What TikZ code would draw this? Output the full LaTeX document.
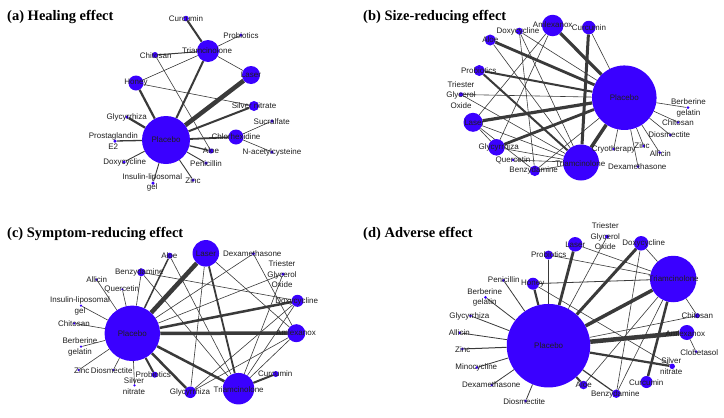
\documentclass[tikz,border=0pt]{standalone}
\usepackage{fontspec}
\setmainfont{Liberation Serif}
\newfontfamily\lblfont{Liberation Sans}
\usetikzlibrary{backgrounds}
\definecolor{nodeblue}{RGB}{58,0,255}
\definecolor{edgegray}{RGB}{58,58,58}
\begin{document}
\begin{tikzpicture}[x=1pt,y=-1pt,
  dot/.style={circle,fill=nodeblue,draw=none,inner sep=0pt,minimum size=#1},
  lbl/.style={font=\lblfont\fontsize{8}{10.8}\selectfont,inner sep=0pt,align=center,text=black!88},
  ttl/.style={font=\bfseries\fontsize{14.5}{16}\selectfont,anchor=base west,inner sep=0pt},
  ew/.style={draw=edgegray,line width=#1},
]
\useasboundingbox (0,0) rectangle (724,418);
\begin{pgfonlayer}{background}
\fill[white] (0,0) rectangle (724,418);
\end{pgfonlayer}

% ---------------- titles
\node[ttl] (ta) at (7,20.5) {(a) Healing effect};
\node[ttl] (tb) at (363,20.5) {(b) Size-reducing effect};
\node[ttl] (tc) at (7,237) {(c) Symptom-reducing effect};
\node[ttl] (td) at (363,237) {(d) Adverse effect};

% ================= panel (a)
\node[dot=5.5pt] (a-cur) at (186,18.5) {};
\node[dot=3.5pt] (a-pro) at (241,35) {};
\node[dot=22pt]  (a-tri) at (208,51) {};
\node[dot=6pt]   (a-chi) at (155,55) {};
\node[dot=18pt]  (a-las) at (251,75) {};
\node[dot=15pt]  (a-hon) at (136,83) {};
\node[dot=10pt]  (a-sil) at (254,106) {};
\node[dot=3.5pt] (a-gly) at (127,117) {};
\node[dot=3.5pt] (a-suc) at (272,121) {};
\node[dot=48pt]  (a-pla) at (166,140) {};
\node[dot=15pt]  (a-chl) at (236,137) {};
\node[dot=3.5pt] (a-pge) at (115,141) {};
\node[dot=5pt]   (a-alo) at (211,151) {};
\node[dot=3.5pt] (a-nac) at (272,152) {};
\node[dot=3.5pt] (a-dox) at (124,162) {};
\node[dot=3.5pt] (a-pen) at (206,163) {};
\node[dot=3.5pt] (a-ins) at (153,183) {};
\node[dot=3.5pt] (a-zin) at (193,180) {};

\node[lbl] (la-cur) at (186,19) {Curcumin};
\node[lbl] (la-pro) at (241,35.7) {Probiotics};
\node[lbl] (la-tri) at (207,51) {Triamcinolone};
\node[lbl] (la-chi) at (155.7,55.3) {Chitosan};
\node[lbl] (la-las) at (251,75) {Laser};
\node[lbl] (la-hon) at (136,83) {Honey};
\node[lbl] (la-sil) at (254,106) {Silver nitrate};
\node[lbl] (la-gly) at (126.7,117.3) {Glycyrrhiza};
\node[lbl] (la-suc) at (271.7,121.7) {Sucralfate};
\node[lbl] (la-pla) at (166,140) {Placebo};
\node[lbl] (la-chl) at (236,136.7) {Chlorhexidine};
\node[lbl] (la-pge) at (113.3,141) {Prostaglandin\\E2};
\node[lbl] (la-alo) at (211,150.7) {Aloe};
\node[lbl] (la-nac) at (272,152.3) {N-acetylcysteine};
\node[lbl] (la-dox) at (124.7,162.3) {Doxycycline};
\node[lbl] (la-pen) at (206,163.3) {Penicillin};
\node[lbl] (la-ins) at (152.3,182.5) {Insulin-liposomal\\gel};
\node[lbl] (la-zin) at (193,180.3) {Zinc};

% ================= panel (b)
\node[dot=21.5pt] (b-aml) at (552.7,25.5) {};
\node[dot=13.5pt] (b-cur) at (588.8,27.5) {};
\node[dot=7pt]    (b-dox) at (519.3,31.2) {};
\node[dot=11pt]   (b-alo) at (490.2,40) {};
\node[dot=11pt]   (b-pro) at (479.3,70.5) {};
\node[dot=4.5pt]  (b-tre) at (461,94.5) {};
\node[dot=64.5pt] (b-pla) at (624.3,97.7) {};
\node[dot=3pt]    (b-ber) at (688,107.7) {};
\node[dot=19pt]   (b-las) at (473,122.3) {};
\node[dot=3pt]    (b-chi) at (678,122.3) {};
\node[dot=3pt]    (b-dio) at (670.3,135) {};
\node[dot=16.5pt] (b-gly) at (496.5,147.3) {};
\node[dot=3pt]    (b-cry) at (613.7,149) {};
\node[dot=3pt]    (b-zin) at (643.7,146) {};
\node[dot=3pt]    (b-all) at (659.7,152.7) {};
\node[dot=3pt]    (b-que) at (513.2,160) {};
\node[dot=36pt]   (b-tri) at (581,162.5) {};
\node[dot=10.5pt] (b-ben) at (534.8,170.8) {};
\node[dot=3pt]    (b-dex) at (638,166.7) {};

\node[lbl] (lb-aml) at (552.7,25) {Amlexanox};
\node[lbl] (lb-cur) at (589,27.5) {Curcumin};
\node[lbl] (lb-dox) at (518,31.7) {Doxycycline};
\node[lbl] (lb-alo) at (490.3,40) {Aloe};
\node[lbl] (lb-pro) at (478.7,71) {Probiotics};
\node[lbl] (lb-tre) at (461,95) {Triester\\Glycerol\\Oxide};
\node[lbl] (lb-pla) at (624.3,97.7) {Placebo};
\node[lbl] (lb-ber) at (688.5,108) {Berberine\\gelatin};
\node[lbl] (lb-las) at (474.3,122.3) {Laser};
\node[lbl] (lb-chi) at (678,122.3) {Chitosan};
\node[lbl] (lb-dio) at (669.3,135) {Diosmectite};
\node[lbl] (lb-gly) at (498.7,147) {Glycyrrhiza};
\node[lbl] (lb-cry) at (613.7,149) {Cryotherapy};
\node[lbl] (lb-zin) at (642,146) {Zinc};
\node[lbl] (lb-all) at (660.3,153.7) {Allicin};
\node[lbl] (lb-que) at (513,160) {Quercetin};
\node[lbl] (lb-tri) at (580.3,163.3) {Triamcinolone};
\node[lbl] (lb-ben) at (533.7,170.7) {Benzydamine};
\node[lbl] (lb-dex) at (637.3,167) {Dexamethasone};

% ================= panel (c)
\node[dot=26.5pt] (c-las) at (205.8,253.3) {};
\node[dot=6pt]    (c-alo) at (169.7,255.7) {};
\node[dot=3.5pt]  (c-dex) at (253.3,253.7) {};
\node[dot=3.5pt]  (c-tre) at (283,274) {};
\node[dot=8pt]    (c-ben) at (141.3,272.3) {};
\node[dot=2.5pt]  (c-all) at (96.5,279.5) {};
\node[dot=2.5pt]  (c-que) at (122.3,289.2) {};
\node[dot=2.5pt]  (c-ins) at (81,305.7) {};
\node[dot=12pt]   (c-dox) at (297.5,300.8) {};
\node[dot=2.5pt]  (c-chi) at (74.2,323.3) {};
\node[dot=55.5pt] (c-pla) at (132.3,333.3) {};
\node[dot=18pt]   (c-aml) at (296.3,333.2) {};
\node[dot=2.5pt]  (c-ber) at (81,346.7) {};
\node[dot=2.5pt]  (c-zin) at (78.7,370) {};
\node[dot=2.5pt]  (c-dio) at (113.3,370) {};
\node[dot=2.5pt]  (c-sil) at (134.5,385.3) {};
\node[dot=6pt]    (c-pro) at (154.7,374.7) {};
\node[dot=11.5pt] (c-gly) at (190.3,392.3) {};
\node[dot=31.5pt] (c-tri) at (238.5,388.7) {};
\node[dot=6pt]    (c-cur) at (275.7,374) {};

\node[lbl] (lc-las) at (206,253.7) {Laser};
\node[lbl] (lc-alo) at (169.3,256) {Aloe};
\node[lbl] (lc-dex) at (252.3,253.7) {Dexamethasone};
\node[lbl] (lc-tre) at (282,274.3) {Triester\\Glycerol\\Oxide};
\node[lbl] (lc-ben) at (139.3,272.7) {Benzydamine};
\node[lbl] (lc-all) at (96.7,279.7) {Allicin};
\node[lbl] (lc-que) at (121.7,289) {Quercetin};
\node[lbl] (lc-ins) at (80,306) {Insulin-liposomal\\gel};
\node[lbl] (lc-dox) at (296.7,301) {Doxycycline};
\node[lbl] (lc-chi) at (74,323.3) {Chitosan};
\node[lbl] (lc-pla) at (132.3,333.3) {Placebo};
\node[lbl] (lc-aml) at (296,333) {Amlexanox};
\node[lbl] (lc-ber) at (80,347.3) {Berberine\\gelatin};
\node[lbl] (lc-zin) at (81.7,370.3) {Zinc};
\node[lbl] (lc-dio) at (111.7,370.3) {Diosmectite};
\node[lbl] (lc-sil) at (134,386) {Silver\\nitrate};
\node[lbl] (lc-pro) at (153.3,374.3) {Probiotics};
\node[lbl] (lc-gly) at (190,392.3) {Glycyrrhiza};
\node[lbl] (lc-tri) at (238.7,389.3) {Triamcinolone};
\node[lbl] (lc-cur) at (275.3,374) {Curcumin};

% ================= panel (d)
\node[dot=4pt]    (d-tre) at (607,236.7) {};
\node[dot=14.5pt] (d-las) at (575.2,244.3) {};
\node[dot=14.5pt] (d-dox) at (641.2,243.3) {};
\node[dot=9pt]    (d-pro) at (548.5,255) {};
\node[dot=46.5pt] (d-tri) at (673.2,279) {};
\node[dot=3pt]    (d-pen) at (503.5,280.3) {};
\node[dot=12pt]   (d-hon) at (533,283.7) {};
\node[dot=3pt]    (d-ber) at (485.5,297.3) {};
\node[dot=3pt]    (d-gly) at (470.5,315.8) {};
\node[dot=5pt]    (d-chi) at (697.3,315.7) {};
\node[dot=15pt]   (d-aml) at (686.8,332.5) {};
\node[dot=83.5pt] (d-pla) at (548.5,345.7) {};
\node[dot=3pt]    (d-all) at (459.7,332.8) {};
\node[dot=3pt]    (d-clo) at (696,351.7) {};
\node[dot=3pt]    (d-zin) at (462.3,349) {};
\node[dot=5.5pt]  (d-sil) at (672.2,366.3) {};
\node[dot=3pt]    (d-min) at (476.8,367.5) {};
\node[dot=12pt]   (d-cur) at (646.5,382) {};
\node[dot=8.5pt]  (d-alo) at (583.5,385) {};
\node[dot=3pt]    (d-dex) at (491.8,385) {};
\node[dot=8.5pt]  (d-ben) at (616.3,393.7) {};
\node[dot=3pt]    (d-dio) at (525.7,401) {};

\node[lbl] (ld-tre) at (605.3,236.3) {Triester\\Glycerol\\Oxide};
\node[lbl] (ld-las) at (575.3,244.7) {Laser};
\node[lbl] (ld-dox) at (643.7,243.7) {Doxycycline};
\node[lbl] (ld-pro) at (548.7,255) {Probiotics};
\node[lbl] (ld-tri) at (673.7,279) {Triamcinolone};
\node[lbl] (ld-pen) at (503.7,280) {Penicillin};
\node[lbl] (ld-hon) at (532.7,284) {Honey};
\node[lbl] (ld-ber) at (484.7,297.5) {Berberine\\gelatin};
\node[lbl] (ld-gly) at (469.3,316.3) {Glycyrrhiza};
\node[lbl] (ld-chi) at (697.3,316) {Chitosan};
\node[lbl] (ld-aml) at (685.3,333.3) {Amlexanox};
\node[lbl] (ld-pla) at (548.7,345.7) {Placebo};
\node[lbl] (ld-all) at (459.3,333) {Allicin};
\node[lbl] (ld-clo) at (699.3,352.3) {Clobetasol};
\node[lbl] (ld-zin) at (462.7,349.3) {Zinc};
\node[lbl] (ld-sil) at (671.3,366.5) {Silver\\nitrate};
\node[lbl] (ld-min) at (476.3,367.7) {Minocycline};
\node[lbl] (ld-cur) at (646.3,382.3) {Curcumin};
\node[lbl] (ld-alo) at (583.7,385) {Aloe};
\node[lbl] (ld-dex) at (491.3,385) {Dexamethasone};
\node[lbl] (ld-ben) at (615.3,394) {Benzydamine};
\node[lbl] (ld-dio) at (524.3,401.3) {Diosmectite};

% ================= edges (behind nodes)
\begin{pgfonlayer}{background}
% (a)
\draw[ew=2pt] (a-cur)--(a-tri);
\draw[ew=0.6pt] (a-pro)--(a-tri);
\draw[ew=1pt] (a-chi)--(a-tri);
\draw[ew=0.6pt] (a-tri)--(a-las);
\draw[ew=0.6pt] (a-tri)--(a-hon);
\draw[ew=2pt] (a-tri)--(a-pla);
\draw[ew=0.6pt] (a-chi)--(a-alo);
\draw[ew=2.2pt] (a-hon)--(a-pla);
\draw[ew=0.6pt] (a-hon)--(a-sil);
\draw[ew=4.5pt] (a-las)--(a-pla);
\draw[ew=2pt] (a-sil)--(a-pla);
\draw[ew=2.2pt] (a-gly)--(a-pla);
\draw[ew=1.3pt] (a-pge)--(a-pla);
\draw[ew=1.8pt] (a-chl)--(a-pla);
\draw[ew=0.6pt] (a-chl)--(a-suc);
\draw[ew=0.6pt] (a-chl)--(a-nac);
\draw[ew=1.3pt] (a-pla)--(a-alo);
\draw[ew=0.9pt] (a-pla)--(a-pen);
\draw[ew=0.9pt] (a-pla)--(a-dox);
\draw[ew=0.9pt] (a-pla)--(a-ins);
\draw[ew=0.9pt] (a-pla)--(a-zin);
% (b)
\draw[ew=3.2pt] (b-pla)--(b-aml);
\draw[ew=0.6pt] (b-pla)--(b-cur);
\draw[ew=0.6pt] (b-pla)--(b-dox);
\draw[ew=2.8pt] (b-pla)--(b-alo);
\draw[ew=2pt] (b-pla)--(b-pro);
\draw[ew=0.6pt] (b-pla)--(b-tre);
\draw[ew=3.2pt] (b-pla)--(b-las);
\draw[ew=2.8pt] (b-pla)--(b-gly);
\draw[ew=3.5pt] (b-pla)--(b-tri);
\draw[ew=0.6pt] (b-pla)--(b-ben);
\draw[ew=0.6pt] (b-pla)--(b-ber);
\draw[ew=0.6pt] (b-pla)--(b-chi);
\draw[ew=0.6pt] (b-pla)--(b-dio);
\draw[ew=0.6pt] (b-pla)--(b-all);
\draw[ew=0.6pt] (b-pla)--(b-zin);
\draw[ew=0.6pt] (b-pla)--(b-dex);
\draw[ew=0.6pt] (b-pla)--(b-cry);
\draw[ew=3pt] (b-cur)--(b-tri);
\draw[ew=0.6pt] (b-aml)--(b-las);
\draw[ew=0.6pt] (b-aml)--(b-gly);
\draw[ew=0.6pt] (b-dox)--(b-tri);
\draw[ew=0.6pt] (b-dox)--(b-ben);
\draw[ew=0.6pt] (b-alo)--(b-tri);
\draw[ew=2pt] (b-pro)--(b-tri);
\draw[ew=0.6pt] (b-tre)--(b-tri);
\draw[ew=0.6pt] (b-las)--(b-gly);
\draw[ew=0.6pt] (b-las)--(b-tri);
\draw[ew=0.6pt] (b-las)--(b-ben);
\draw[ew=0.6pt] (b-gly)--(b-tri);
\draw[ew=0.6pt] (b-que)--(b-tri);
\draw[ew=0.6pt] (b-ben)--(b-tri);
% (c)
\draw[ew=4.5pt] (c-pla)--(c-las);
\draw[ew=1.5pt] (c-pla)--(c-alo);
\draw[ew=0.6pt] (c-pla)--(c-ben);
\draw[ew=0.6pt] (c-pla)--(c-que);
\draw[ew=0.6pt] (c-pla)--(c-all);
\draw[ew=0.6pt] (c-pla)--(c-ins);
\draw[ew=0.6pt] (c-pla)--(c-chi);
\draw[ew=0.6pt] (c-pla)--(c-ber);
\draw[ew=0.6pt] (c-pla)--(c-zin);
\draw[ew=0.6pt] (c-pla)--(c-dio);
\draw[ew=0.6pt] (c-pla)--(c-sil);
\draw[ew=2pt] (c-pla)--(c-pro);
\draw[ew=2.5pt] (c-pla)--(c-gly);
\draw[ew=2.5pt] (c-pla)--(c-tri);
\draw[ew=3.5pt] (c-pla)--(c-aml);
\draw[ew=2.5pt] (c-pla)--(c-dox);
\draw[ew=0.6pt] (c-pla)--(c-dex);
\draw[ew=0.6pt] (c-pla)--(c-tre);
\draw[ew=1.8pt] (c-las)--(c-tri);
\draw[ew=0.6pt] (c-las)--(c-aml);
\draw[ew=0.6pt] (c-las)--(c-gly);
\draw[ew=0.6pt] (c-alo)--(c-tri);
\draw[ew=0.6pt] (c-ben)--(c-dox);
\draw[ew=0.6pt] (c-ben)--(c-tri);
\draw[ew=0.6pt] (c-dex)--(c-aml);
\draw[ew=0.6pt] (c-tre)--(c-tri);
\draw[ew=0.6pt] (c-dox)--(c-tri);
\draw[ew=0.6pt] (c-aml)--(c-tri);
\draw[ew=0.6pt] (c-aml)--(c-gly);
\draw[ew=0.6pt] (c-dox)--(c-gly);
\draw[ew=2pt] (c-cur)--(c-tri);
% (d)
\draw[ew=3.5pt] (d-pla)--(d-tri);
\draw[ew=4.5pt] (d-pla)--(d-aml);
\draw[ew=3pt] (d-pla)--(d-dox);
\draw[ew=2.8pt] (d-pla)--(d-las);
\draw[ew=1.8pt] (d-pla)--(d-pro);
\draw[ew=2.2pt] (d-pla)--(d-hon);
\draw[ew=0.8pt] (d-pla)--(d-pen);
\draw[ew=0.8pt] (d-pla)--(d-ber);
\draw[ew=0.8pt] (d-pla)--(d-gly);
\draw[ew=0.8pt] (d-pla)--(d-all);
\draw[ew=1pt] (d-pla)--(d-zin);
\draw[ew=0.8pt] (d-pla)--(d-min);
\draw[ew=0.8pt] (d-pla)--(d-dex);
\draw[ew=0.8pt] (d-pla)--(d-dio);
\draw[ew=2pt] (d-pla)--(d-alo);
\draw[ew=1.2pt] (d-pla)--(d-ben);
\draw[ew=2.2pt] (d-pla)--(d-sil);
\draw[ew=0.6pt] (d-pla)--(d-chi);
\draw[ew=0.6pt] (d-pla)--(d-tre);
\draw[ew=0.6pt] (d-tri)--(d-las);
\draw[ew=0.6pt] (d-tri)--(d-pro);
\draw[ew=0.8pt] (d-tri)--(d-hon);
\draw[ew=0.6pt] (d-tri)--(d-dox);
\draw[ew=0.6pt] (d-tri)--(d-chi);
\draw[ew=2.5pt] (d-tri)--(d-cur);
\draw[ew=0.6pt] (d-tri)--(d-alo);
\draw[ew=0.6pt] (d-tri)--(d-ben);
\draw[ew=0.6pt] (d-hon)--(d-sil);
\draw[ew=0.6pt] (d-dox)--(d-ben);
\draw[ew=0.6pt] (d-aml)--(d-clo);
\end{pgfonlayer}
\end{tikzpicture}
\end{document}
